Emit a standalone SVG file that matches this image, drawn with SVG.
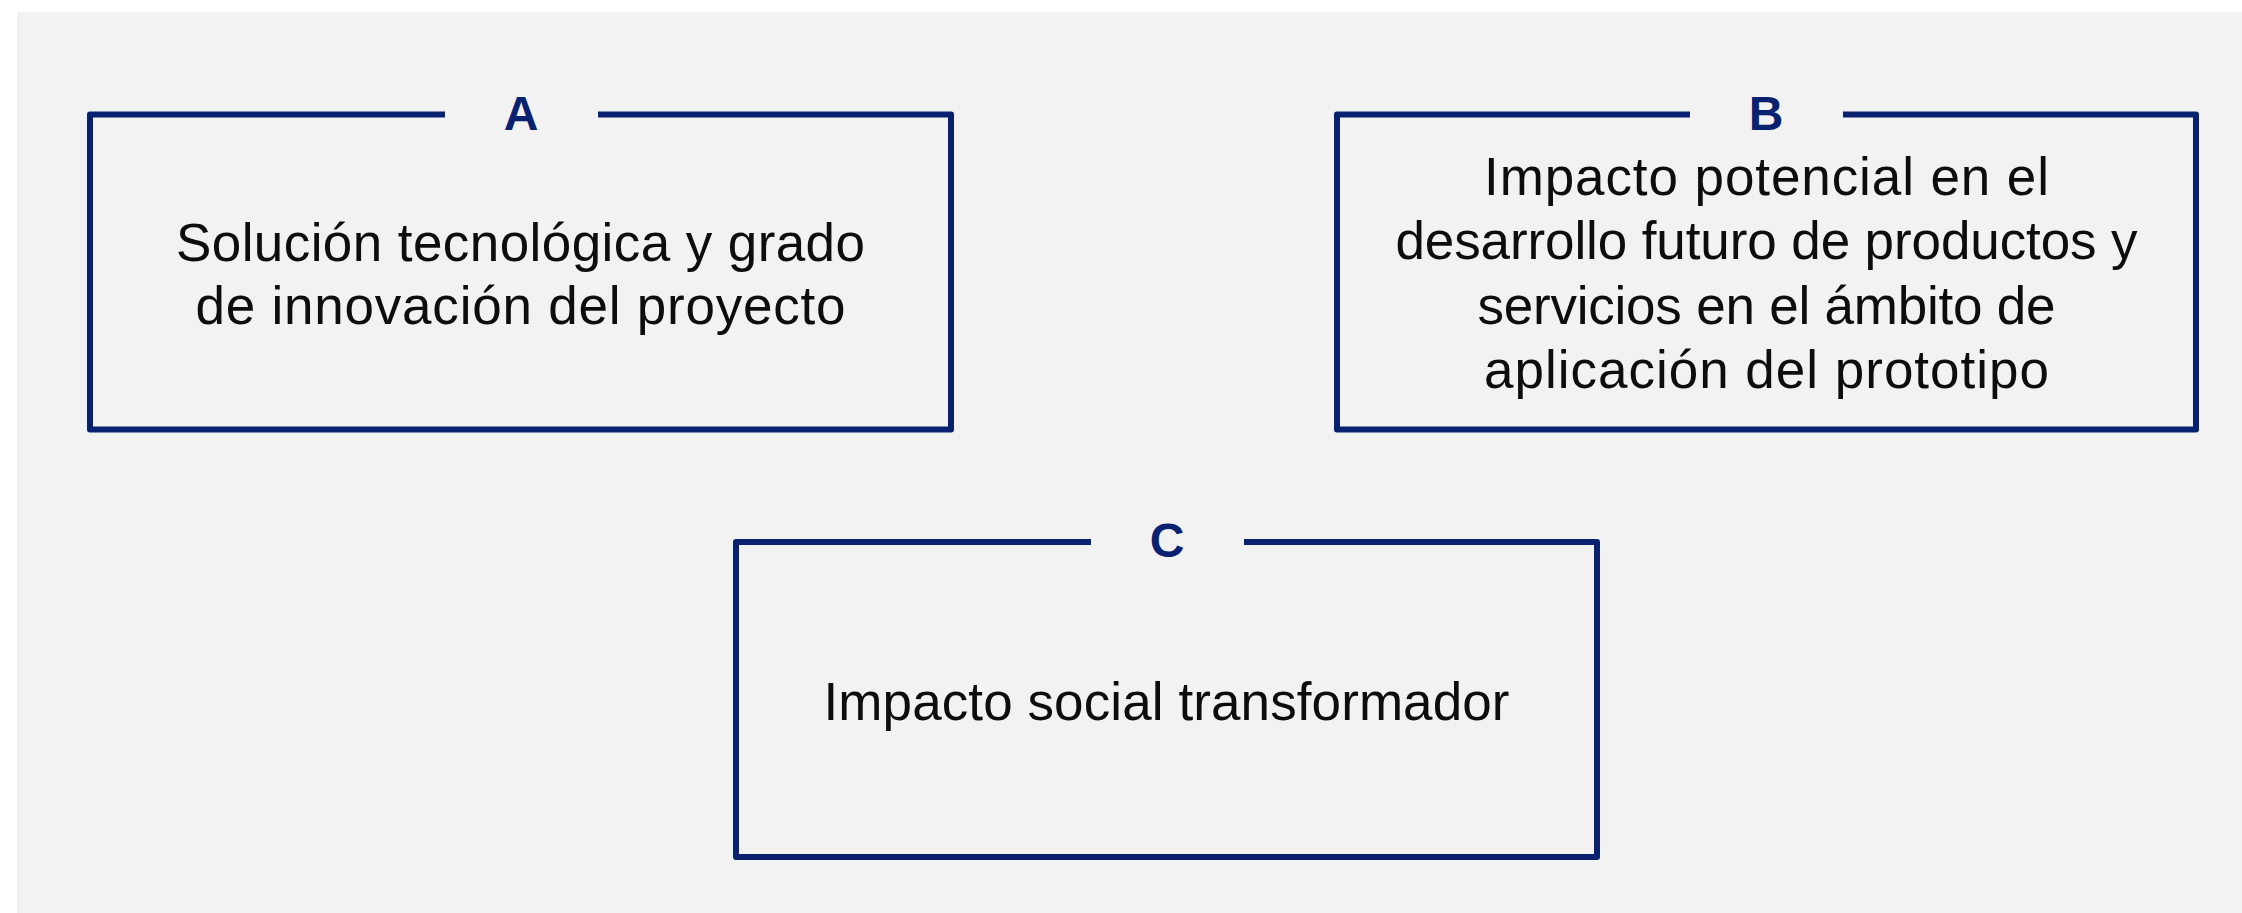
<svg xmlns="http://www.w3.org/2000/svg" width="2242" height="913" viewBox="0 0 2242 913">
<style>
.frame{fill:none;stroke:#0a2170;stroke-width:6;stroke-linejoin:round;stroke-linecap:butt}
.body{font-family:"Liberation Sans",Arial,sans-serif;font-size:53px;fill:#0d0d0d;text-anchor:middle}
.lbl{font-family:"Liberation Sans",Arial,sans-serif;font-size:48px;font-weight:bold;fill:#0a2170;text-anchor:middle}
</style>
<rect x="0" y="0" width="2242" height="913" fill="#ffffff"/>
<rect x="17" y="12" width="2225" height="901" fill="#f2f2f2"/>
<g id="node-a">
<path class="frame" d="M445,114.5 H90 V429.5 H951 V114.5 H598"/>
<text class="lbl" x="521" y="130">A</text>
<text class="body" x="520.5" y="261" textLength="689">Solución tecnológica y grado</text>
<text class="body" x="520.5" y="324" textLength="650">de innovación del proyecto</text>
</g>
<g id="node-b">
<path class="frame" d="M1690,114.5 H1337 V429.5 H2196 V114.5 H1843"/>
<text class="lbl" x="1766" y="130">B</text>
<text class="body" x="1766.5" y="195" textLength="565">Impacto potencial en el</text>
<text class="body" x="1766.5" y="259" textLength="742">desarrollo futuro de productos y</text>
<text class="body" x="1766.5" y="324" textLength="578">servicios en el ámbito de</text>
<text class="body" x="1766.5" y="388" textLength="565">aplicación del prototipo</text>
</g>
<g id="node-c">
<path class="frame" d="M1091,542 H736 V857 H1597 V542 H1244"/>
<text class="lbl" x="1167" y="557">C</text>
<text class="body" x="1166.5" y="720" textLength="686">Impacto social transformador</text>
</g>
<g id="connectors"></g>
</svg>
